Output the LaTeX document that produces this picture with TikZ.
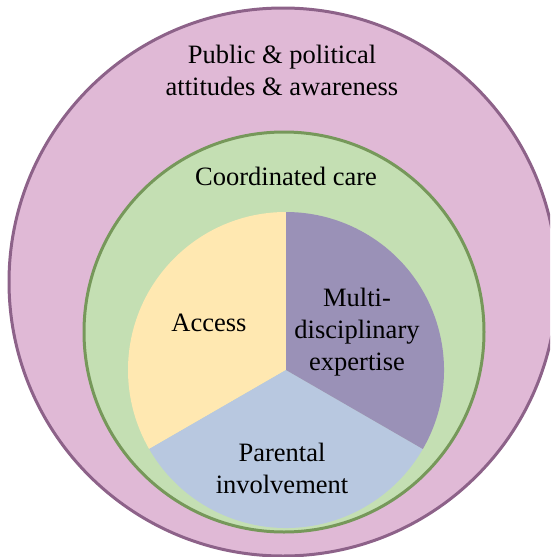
\documentclass[tikz,border=0pt]{standalone}
\usepackage{fontspec}
\setmainfont{Liberation Serif}
\definecolor{outerfill}{HTML}{E0B9D6}
\definecolor{outerline}{HTML}{8D6289}
\definecolor{midfill}{HTML}{C4DFB3}
\definecolor{midline}{HTML}{76985A}
\definecolor{accfill}{HTML}{FFE8B1}
\definecolor{expfill}{HTML}{9A91B7}
\definecolor{parfill}{HTML}{B8C8E0}
\tikzset{
  lbl/.style={font=\fontsize{26.5}{32}\selectfont, align=center, inner sep=0pt, anchor=base},
  ring/.style={circle, inner sep=0pt, line width=3pt}
}
\begin{document}
\begin{tikzpicture}[x=1pt,y=1pt]
\useasboundingbox (0,0) rectangle (550,-557);
\clip (0,0) rectangle (550,-557);
\node[ring, draw=outerline, fill=outerfill, minimum size=548] (outer) at (283,-282) {};
\node[ring, draw=midline, fill=midfill, minimum size=400] (middle) at (284,-332) {};
\coordinate (pc) at (286,-370);
\fill[accfill] (pc) -- ++(90:158) arc[start angle=90, end angle=210, radius=158] -- cycle;
\fill[parfill] (pc) -- ++(210:158) arc[start angle=210, end angle=330, radius=158] -- cycle;
\fill[expfill] (pc) -- ++(-30:158) arc[start angle=-30, end angle=90, radius=158] -- cycle;
% base anchor of a multi-line node is the baseline of its last line
\node[lbl] (public) at (282,-95) {Public \& political\\attitudes \& awareness};
\node[lbl] (coord) at (286,-185) {Coordinated care};
\node[lbl] (access) at (209,-331) {Access};
\node[lbl] (expert) at (357,-370) {Multi-\\disciplinary\\expertise};
\node[lbl] (parent) at (282,-493) {Parental\\involvement};
\end{tikzpicture}
\end{document}
